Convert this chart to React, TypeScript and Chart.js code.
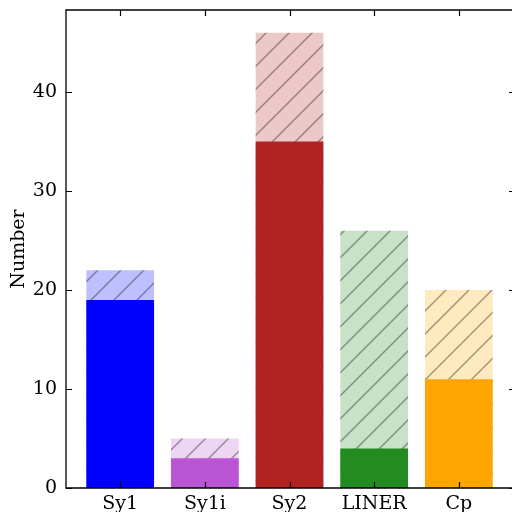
import React, { useEffect, useRef } from "react";
import { Chart, registerables } from "chart.js";

Chart.register(...registerables);

const categories = ["Sy1", "Sy1i", "Sy2", "LINER", "Cp"];
const totalCounts = [22, 5, 46, 26, 20];
const solidCounts = [19, 3, 35, 4, 11];
const solidColors = ["#0000ff", "#ba55d3", "#b22222", "#228b22", "#ffa500"];
const yTicks = [0, 10, 20, 30, 40];

function lighten(hex: string, a: number) {
  const r = parseInt(hex.slice(1, 3), 16);
  const g = parseInt(hex.slice(3, 5), 16);
  const b = parseInt(hex.slice(5, 7), 16);
  const m = (c: number) => Math.round(c * a + 255 * (1 - a));
  return `rgb(${m(r)},${m(g)},${m(b)})`;
}

function hatchPattern(ctx: CanvasRenderingContext2D, bg: string) {
  const s = 23;
  const c = document.createElement("canvas");
  c.width = s;
  c.height = s;
  const t = c.getContext("2d")!;
  t.fillStyle = bg;
  t.fillRect(0, 0, s, s);
  t.strokeStyle = "rgba(0,0,0,0.36)";
  t.lineWidth = 1.5;
  t.beginPath();
  t.moveTo(-2, s + 2);
  t.lineTo(s + 2, -2);
  t.moveTo(-2, 2);
  t.lineTo(2, -2);
  t.moveTo(s - 2, s + 2);
  t.lineTo(s + 2, s - 2);
  t.stroke();
  return ctx.createPattern(c, "repeat")!;
}

const frameTicks = {
  id: "frameTicks",
  afterDraw(chart: any) {
    const { ctx, chartArea: a, scales } = chart;
    const len = 6;
    const right = a.left + (scales.x.getPixelForValue(4.64) - a.left);
    ctx.save();
    ctx.strokeStyle = "#000";
    ctx.lineWidth = 1.2;
    ctx.beginPath();
    for (let i = 0; i < categories.length; i++) {
      const x = Math.round(scales.x.getPixelForValue(i)) + 0.5;
      ctx.moveTo(x, a.bottom);
      ctx.lineTo(x, a.bottom - len);
      ctx.moveTo(x, a.top);
      ctx.lineTo(x, a.top + len);
    }
    for (const v of yTicks) {
      const y = Math.round(scales.y.getPixelForValue(v)) + 0.5;
      ctx.moveTo(a.left, y);
      ctx.lineTo(a.left + len, y);
      ctx.moveTo(right + 2, y);
      ctx.lineTo(right + 2 - len, y);
    }
    ctx.stroke();
    ctx.lineWidth = 1.3;
    ctx.beginPath();
    ctx.moveTo(a.right + 10, a.top);
    ctx.lineTo(a.left, a.top);
    ctx.lineTo(a.left, a.bottom);
    ctx.lineTo(a.right + 10, a.bottom);
    ctx.stroke();
    ctx.restore();
  },
};

const serif = { family: "DejaVu Serif", size: 19 };

export default function App() {
  const ref = useRef<HTMLCanvasElement>(null);
  useEffect(() => {
    document.body.style.margin = "0";
    document.body.style.overflow = "hidden";
    const canvas = ref.current!;
    const ctx = canvas.getContext("2d")!;
    const chart = new Chart(ctx, {
      type: "bar",
      data: {
        datasets: [
          {
            label: "total",
            data: totalCounts.map((y, x) => ({ x, y })),
            backgroundColor: solidColors.map((c) => hatchPattern(ctx, lighten(c, 0.25))),
            borderWidth: 0,
            grouped: false,
            order: 2,
          },
          {
            label: "solid",
            data: solidCounts.map((y, x) => ({ x, y })),
            backgroundColor: solidColors,
            borderWidth: 0,
            grouped: false,
            order: 1,
          },
        ],
      },
      options: {
        animation: false,
        responsive: false,
        maintainAspectRatio: false,
        layout: { padding: { top: 10, right: 7, left: 0, bottom: 0 } },
        plugins: { legend: { display: false }, tooltip: { enabled: false } },
        datasets: { bar: { categoryPercentage: 1, barPercentage: 0.8 } },
        scales: {
          x: {
            type: "linear",
            offset: false,
            min: -0.64,
            max: 4.64,
            afterBuildTicks: (s: any) => {
              s.ticks = categories.map((_, i) => ({ value: i }));
            },
            afterFit: (s: any) => {
              s.height = 24;
              s.paddingLeft = 0;
              s.paddingRight = 0;
            },
            grid: { display: false, drawTicks: false },
            border: { display: false },
            ticks: {
              padding: 5,
              color: "#000",
              font: serif,
              callback: (v: any) => categories[Math.round(v)] ?? "",
              maxRotation: 0,
              autoSkip: false,
            },
          },
          y: {
            type: "linear",
            min: 0,
            max: 48.3,
            afterBuildTicks: (s: any) => {
              s.ticks = yTicks.map((v) => ({ value: v }));
            },
            afterFit: (s: any) => {
              s.width = 66;
              s.paddingTop = 0;
              s.paddingBottom = 0;
            },
            grid: { display: false, drawTicks: false },
            border: { display: false },
            title: {
              display: true,
              text: "Number",
              color: "#000",
              font: serif,
              padding: { top: 8, bottom: 0 },
            },
            ticks: {
              padding: 9,
              color: "#000",
              font: serif,
            },
          },
        },
      },
      plugins: [frameTicks],
    });
    return () => chart.destroy();
  }, []);
  return <canvas ref={ref} width={520} height={512} style={{ display: "block" }} />;
}
